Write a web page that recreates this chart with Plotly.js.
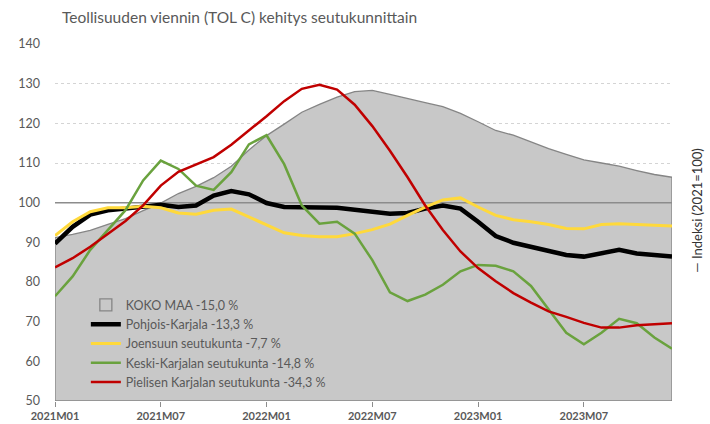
<!DOCTYPE html>
<html>
<head>
<meta charset="utf-8">
<script src="https://cdn.plot.ly/plotly-3.0.1.min.js"></script>
<style>html,body{margin:0;padding:0;background:#fff;}#chart{width:710px;height:424px;}</style>
</head>
<body>
<div id="chart"></div>
<script>
const months = ['2021M01','2021M02','2021M03','2021M04','2021M05','2021M06','2021M07','2021M08','2021M09','2021M10','2021M11','2021M12',
  '2022M01','2022M02','2022M03','2022M04','2022M05','2022M06','2022M07','2022M08','2022M09','2022M10','2022M11','2022M12',
  '2023M01','2023M02','2023M03','2023M04','2023M05','2023M06','2023M07','2023M08','2023M09','2023M10','2023M11','2023M12'];
const tickLabels = ['2021M01','2021M07','2022M01','2022M07','2023M01','2023M07'];

const kokoMaa = [91.2, 92.0, 93.0, 94.5, 96.0, 98.0, 99.9, 102.3, 104.1, 106.3, 109.2, 113.3,
  116.9, 119.8, 122.8, 124.8, 126.6, 128.0, 128.3, 127.3, 126.2, 125.2, 124.2, 122.5,
  120.4, 118.2, 117.0, 115.4, 113.6, 112.2, 110.8, 110.0, 109.2, 108.1, 107.1, 106.4];
const pohjoisKarjala = [89.7, 93.9, 97.0, 98.1, 98.5, 99.0, 99.5, 98.9, 99.3, 101.8, 102.9, 102.1,
  99.9, 98.9, 98.9, 98.9, 98.7, 98.2, 97.7, 97.2, 97.4, 98.5, 99.3, 98.5,
  95.2, 91.6, 89.9, 88.9, 87.7, 86.8, 86.4, 87.2, 88.1, 87.2, 86.8, 86.4];
const joensuu = [91.7, 95.2, 97.7, 98.7, 98.7, 99.1, 98.7, 97.4, 97.1, 98.1, 98.4, 96.4,
  94.3, 92.4, 91.7, 91.4, 91.4, 92.2, 93.2, 94.6, 96.8, 98.9, 100.7, 101.2,
  98.9, 96.8, 95.7, 95.2, 94.5, 93.5, 93.4, 94.5, 94.7, 94.5, 94.2, 94.1];
const keskiKarjala = [76.4, 81.4, 88.1, 93.1, 98.1, 105.6, 110.6, 108.5, 104.3, 103.2, 107.7, 114.7,
  117.0, 109.7, 99.3, 94.7, 95.2, 92.2, 85.5, 77.4, 75.2, 76.8, 79.3, 82.7,
  84.3, 84.1, 82.7, 79.0, 73.0, 67.2, 64.3, 67.2, 70.7, 69.6, 66.0, 63.2];
const pielinen = [83.7, 86.0, 88.9, 92.1, 95.4, 99.3, 104.3, 107.8, 109.7, 111.5, 114.6, 118.1,
  121.8, 125.6, 128.7, 129.7, 128.5, 124.7, 119.3, 113.1, 106.4, 99.3, 93.1, 87.7,
  83.5, 80.2, 77.2, 74.8, 72.6, 71.2, 69.7, 68.5, 68.5, 69.1, 69.3, 69.6];

const names = ['KOKO MAA -15,0 %','Pohjois-Karjala -13,3 %','Joensuun seutukunta -7,7 %',
  'Keski-Karjalan seutukunta -14,8 %','Pielisen Karjalan seutukunta -34,3 %'];

const Y_MIN = 50, Y_MAX = 140, BASE = 100;
const first = months[0], last = months[months.length - 1];

const FONT = 'Lato, "Open Sans", sans-serif';
const GREY_TEXT = '#595959';
const AREA_FILL = '#c8c8c8', AREA_LINE = '#858585';

const traces = [
  {
    x: [first].concat(months, [last, first]),
    y: [Y_MIN].concat(kokoMaa, [Y_MIN, Y_MIN]),
    type: 'scatter', mode: 'lines', fill: 'toself',
    fillcolor: AREA_FILL, line: {color: AREA_LINE, width: 1.3},
    name: names[0], showlegend: false, hoverinfo: 'skip'
  },
  {
    // legend swatch for the area; its bar lies entirely below the axis minimum
    x: [first], y: [Y_MIN], type: 'bar', name: names[0],
    marker: {color: AREA_FILL, line: {color: AREA_LINE, width: 1.3}}, hoverinfo: 'skip'
  },
  {
    x: [first, last], y: [BASE, BASE], type: 'scatter', mode: 'lines',
    line: {color: '#8c8c8c', width: 1.5}, showlegend: false, hoverinfo: 'skip'
  },
  {x: months, y: pohjoisKarjala, type: 'scatter', mode: 'lines', name: names[1], line: {color: '#000000', width: 4.5}},
  {x: months, y: joensuu, type: 'scatter', mode: 'lines', name: names[2], line: {color: '#ffd93b', width: 3}},
  {x: months, y: keskiKarjala, type: 'scatter', mode: 'lines', name: names[3], line: {color: '#6aa23e', width: 2.5}},
  {x: months, y: pielinen, type: 'scatter', mode: 'lines', name: names[4], line: {color: '#c00000', width: 2.5}}
];

const layout = {
  width: 710, height: 424,
  margin: {l: 55, r: 38, t: 44, b: 23, pad: 0},
  paper_bgcolor: '#ffffff', plot_bgcolor: '#ffffff',
  font: {family: FONT, color: GREY_TEXT, size: 12},
  title: {
    text: 'Teollisuuden viennin (TOL C) kehitys seutukunnittain',
    font: {family: FONT, size: 15.5, color: GREY_TEXT},
    xref: 'container', yref: 'container', x: 62/710, xanchor: 'left', y: 1 - 18/424, yanchor: 'middle'
  },
  xaxis: {
    type: 'category', categoryorder: 'array', categoryarray: months,
    range: [0, months.length - 1],
    tickvals: tickLabels, ticktext: tickLabels,
    ticks: 'outside', ticklen: 5, tickcolor: '#8c8c8c', tickwidth: 1,
    showgrid: false, zeroline: false, showline: false,
    tickfont: {family: FONT, size: 11, color: GREY_TEXT, weight: 'bold'}
  },
  yaxis: {
    range: [Y_MIN, Y_MAX], dtick: 10, tick0: 50,
    showgrid: true, gridcolor: '#d4d4d4', griddash: '3px,3px', gridwidth: 1,
    zeroline: false, showline: false, ticks: '',
    ticklabelstandoff: 14,
    tickfont: {family: FONT, size: 12.5, color: GREY_TEXT}
  },
  legend: {
    x: 0.05, y: 0.31, xanchor: 'left', yanchor: 'top',
    bgcolor: 'rgba(0,0,0,0)', borderwidth: 0,
    font: {family: FONT, size: 12.5, color: GREY_TEXT},
    tracegroupgap: 0, itemwidth: 30, traceorder: 'normal'
  },
  annotations: [{
    text: '— Indeksi (2021=100)', textangle: -90,
    xref: 'paper', yref: 'paper', x: 1.04, y: 0.535,
    xanchor: 'center', yanchor: 'middle', showarrow: false,
    font: {family: FONT, size: 13, color: '#333333'}
  }],
  showlegend: true
};

Plotly.newPlot('chart', traces, layout, {staticPlot: true});
</script>
</body>
</html>
